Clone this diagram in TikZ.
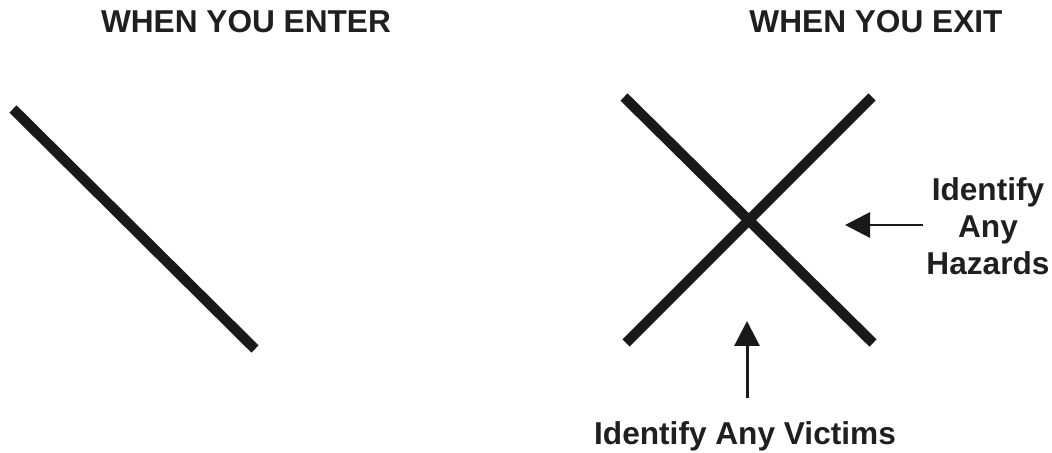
\documentclass[tikz,border=0pt]{standalone}
\usepackage{fontspec}
\setmainfont{Liberation Sans}
\usetikzlibrary{arrows.meta, positioning}

\begin{document}
\begin{tikzpicture}[
  x=0.02cm, y=-0.02cm,
  heading/.style={
    font=\fontsize{18}{21}\selectfont\bfseries, text=black!88,
    inner sep=0pt, anchor=center
  },
  label/.style={
    font=\fontsize{18}{21}\selectfont\bfseries, text=black!88,
    align=center, inner sep=0pt
  },
  bar/.style={line width=5.8pt, draw=black!90},
  arr/.style={-{Triangle[length=5mm, width=5mm]}, line width=1.7pt, draw=black!90}
]
  \useasboundingbox (0,0) rectangle (1052,453);

  % headings
  \node[heading] (enter) at (246,22) {WHEN YOU ENTER};
  \node[heading] (exit)  at (876,22) {WHEN YOU EXIT};

  % entry slash
  \coordinate (e1) at (13,109);
  \coordinate (e2) at (255,349);
  \draw[bar] (e1) -- (e2);

  % exit cross
  \coordinate (xa) at (624,97);
  \coordinate (xb) at (873,343);
  \coordinate (xc) at (872,97);
  \coordinate (xd) at (626,343);
  \draw[bar] (xa) -- (xb);
  \draw[bar] (xc) -- (xd);

  % labels and pointers
  \node[label] (haz) at (988,226) {Identify\\Any\\Hazards};
  \node[label] (vic) at (745,436) {Identify Any Victims};

  \coordinate (hz0) at (923,225);
  \coordinate (hz1) at (845,225);
  \draw[arr] (hz0) -- (hz1);

  \coordinate (vc0) at (747,398);
  \coordinate (vc1) at (747,321);
  \draw[arr] (vc0) -- (vc1);
\end{tikzpicture}
\end{document}
